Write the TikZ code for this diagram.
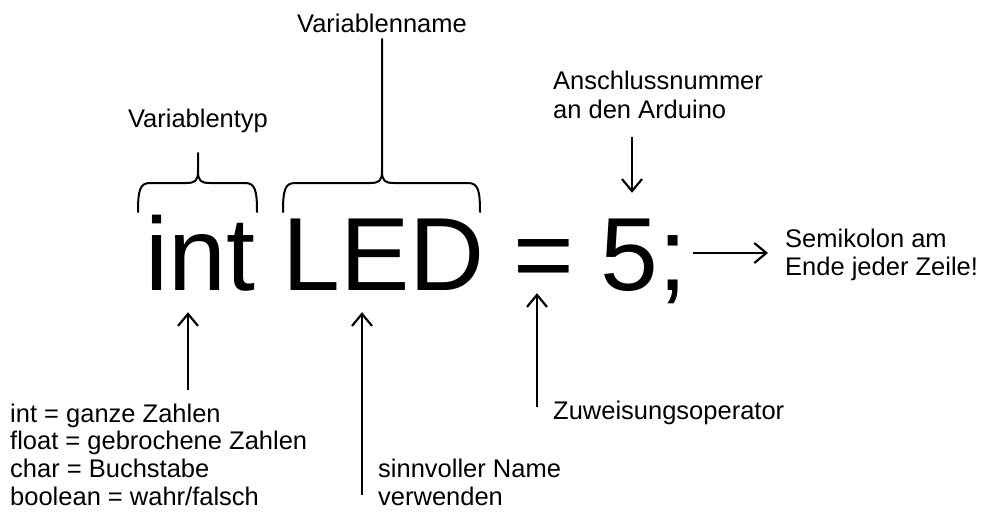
\documentclass[tikz,border=0pt]{standalone}
\usepackage{fontspec}
\setmainfont{Liberation Sans}
\usetikzlibrary{arrows.meta,calc}
\begin{document}
\begin{tikzpicture}[x=1pt,y=-1pt,
  big/.style={inner sep=0pt,anchor=base west,text height=97pt,text depth=22pt,font=\fontsize{104}{110}\selectfont},
  lbl/.style={inner sep=0pt,anchor=base west,font=\fontsize{25.5}{29}\selectfont},
  lblc/.style={inner sep=0pt,anchor=base,font=\fontsize{25.5}{29}\selectfont},
  arr/.style={line width=2pt,-{Straight Barb[length=12pt,width=20pt,line width=2.2pt]}},
  brace/.style={line width=2pt,line cap=round,line join=round}]
\useasboundingbox (0,0) rectangle (982,514);

% code tokens
\node[big] (int) at (145,290) {int};
\node[big] (led) at (282,290) {LED};
\node[big] (eq) at (513,290) {=};
\node[big] (five) at (600,290) {5;};

% top labels
\node[lblc] (typ) at (198,127) {Variablentyp};
\node[lblc] (name) at (382,32) {Variablenname};
\node[lbl] (ans1) at (553,89) {Anschlussnummer};
\node[lbl] (ans2) at (553,118) {an den Arduino};

% right label
\node[lbl] (semi1) at (785,247) {Semikolon am};
\node[lbl] (semi2) at (785,275) {Ende jeder Zeile!};

% bottom labels
\node[lbl] (t1) at (10,422) {int = ganze Zahlen};
\node[lbl] (t2) at (10,449.5) {float = gebrochene Zahlen};
\node[lbl] (t3) at (10,477) {char = Buchstabe};
\node[lbl] (t4) at (10,505) {boolean = wahr/falsch};
\node[lbl] (s1) at (378,477) {sinnvoller Name};
\node[lbl] (s2) at (378,505) {verwenden};
\node[lbl] (zu) at (553,419) {Zuweisungsoperator};

% braces
\coordinate (b1l) at (138,212);
\coordinate (b1r) at (257,212);
\coordinate (b1t) at (198,153);
\draw[brace] (b1l) .. controls ($(b1l)+(0,-22)$) and ($(b1l)+(2,-29)$) .. ($(b1l)+(12,-29)$)
  -- ($(b1t)+(-12,30)$) .. controls ($(b1t)+(-3,30)$) and ($(b1t)+(0,28)$) .. ($(b1t)+(0,18)$) -- (b1t);
\draw[brace] (b1r) .. controls ($(b1r)+(0,-22)$) and ($(b1r)+(-2,-29)$) .. ($(b1r)+(-12,-29)$)
  -- ($(b1t)+(12,30)$) .. controls ($(b1t)+(3,30)$) and ($(b1t)+(0,28)$) .. ($(b1t)+(0,18)$);

\coordinate (b2l) at (283,212);
\coordinate (b2r) at (480,212);
\coordinate (b2m) at (382,153);
\coordinate (b2t) at (382,39);
\draw[brace] (b2l) .. controls ($(b2l)+(0,-22)$) and ($(b2l)+(2,-29)$) .. ($(b2l)+(12,-29)$)
  -- ($(b2m)+(-12,30)$) .. controls ($(b2m)+(-3,30)$) and ($(b2m)+(0,28)$) .. ($(b2m)+(0,18)$) -- (b2t);
\draw[brace] (b2r) .. controls ($(b2r)+(0,-22)$) and ($(b2r)+(-2,-29)$) .. ($(b2r)+(-12,-29)$)
  -- ($(b2m)+(12,30)$) .. controls ($(b2m)+(3,30)$) and ($(b2m)+(0,28)$) .. ($(b2m)+(0,18)$);

% arrows
\coordinate (a1) at (188,390);
\coordinate (a2) at (362,495);
\coordinate (a3) at (537,407);
\coordinate (a4) at (632,137);
\coordinate (a5) at (693,253);
\draw[arr] (a1) -- (a1 |- int.south);
\draw[arr] (a2) -- (a2 |- led.south);
\draw[arr] (a3) -- ($(a3 |- eq.south)+(0,-19)$);
\draw[arr] (a4) -- (a4 |- five.north);
\draw[arr] (a5) -- ($(semi1.west |- a5)+(-17,0)$);
\end{tikzpicture}
\end{document}
